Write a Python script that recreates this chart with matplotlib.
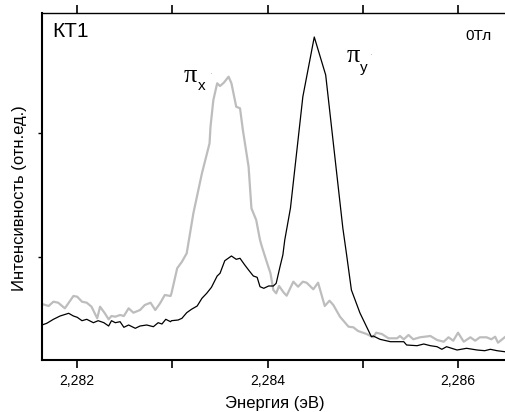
import matplotlib
matplotlib.use("Agg")
import matplotlib.pyplot as plt
from matplotlib.ticker import FixedLocator, FuncFormatter

plt.rcParams['font.family'] = ['Liberation Sans', 'DejaVu Sans']

# pi_y' spectrum (black): energy (eV), intensity (arb. units)
energy_y = [2.28163, 2.28168, 2.28175, 2.28182, 2.28191, 2.28196, 2.28200, 2.28205,
            2.28210, 2.28217, 2.28222, 2.28228, 2.28233, 2.28236, 2.28240, 2.28245,
            2.28249, 2.28254, 2.28261, 2.28266, 2.28273, 2.28280, 2.28285, 2.28289,
            2.28293, 2.28298, 2.28299, 2.28306, 2.28310, 2.28315, 2.28320, 2.28326,
            2.28331, 2.28336, 2.28341, 2.28347, 2.28350, 2.28355, 2.28362, 2.28367,
            2.28371, 2.28376, 2.28380, 2.28385, 2.28389, 2.28392, 2.28396, 2.28401,
            2.28406, 2.28409, 2.28413, 2.28416, 2.28418, 2.28424, 2.28437, 2.28449,
            2.28461, 2.28479, 2.28483, 2.28488, 2.28497, 2.28509, 2.28511, 2.28518,
            2.28529, 2.28543, 2.28546, 2.28557, 2.28564, 2.28571, 2.28578, 2.28583,
            2.28588, 2.28599, 2.28609, 2.28620, 2.28628, 2.28634, 2.28641, 2.28649]
intensity_y = [55, 56.7, 60.7, 64, 66.7, 64, 62.7, 59.3,
               60.7, 57.3, 59.3, 57.3, 54, 59.3, 57.3, 58.3,
               52.7, 55, 51.7, 54, 55, 53.3, 57.3, 56,
               60.7, 58.3, 59.3, 60, 61.7, 67.3, 70.7, 74,
               81.7, 86.7, 92.7, 104, 106.7, 119.3, 124, 120.7,
               121.7, 115, 110, 104, 102.7, 93.3, 91.7, 94,
               94, 96.7, 113.3, 125, 140, 172, 283.3, 343,
               305, 152, 125, 90, 67, 43.3, 44, 40.7,
               38.3, 38.3, 35, 34.3, 36, 34.3, 33.3, 30.7,
               33.3, 30, 31.7, 30, 29.3, 30.7, 29.3, 28.3]

# pi_x' spectrum (grey)
energy_x = [2.28163, 2.28170, 2.28175, 2.28180, 2.28187, 2.28196, 2.28200, 2.28205,
            2.28210, 2.28215, 2.28221, 2.28224, 2.28229, 2.28233, 2.28236, 2.28240,
            2.28245, 2.28249, 2.28254, 2.28259, 2.28266, 2.28271, 2.28277, 2.28282,
            2.28287, 2.28292, 2.28298, 2.28299, 2.28305, 2.28310, 2.28315, 2.28322,
            2.28331, 2.28339, 2.28340, 2.28343, 2.28347, 2.28350, 2.28354, 2.28359,
            2.28362, 2.28367, 2.28371, 2.28374, 2.28380, 2.28383, 2.28388, 2.28392,
            2.28394, 2.28399, 2.28403, 2.28406, 2.28409, 2.28412, 2.28417, 2.28420,
            2.28427, 2.28432, 2.28437, 2.28441, 2.28448, 2.28453, 2.28460, 2.28465,
            2.28469, 2.28476, 2.28485, 2.28490, 2.28495, 2.28504, 2.28511, 2.28514,
            2.28520, 2.28527, 2.28536, 2.28539, 2.28543, 2.28548, 2.28553, 2.28560,
            2.28571, 2.28578, 2.28585, 2.28590, 2.28595, 2.28600, 2.28606, 2.28613,
            2.28618, 2.28623, 2.28630, 2.28635, 2.28639, 2.28642, 2.28649]
intensity_x = [76, 74, 78.3, 77.3, 71.7, 84, 83.3, 78.3,
               77.3, 73.3, 61.7, 73.3, 66.7, 60.7, 64, 63.3,
               65, 64, 71.7, 67.3, 70, 75, 77.3, 70,
               76.7, 85, 84, 86.7, 111.7, 118.3, 126.7, 166.7,
               206.7, 236.7, 253.3, 280, 296.7, 294, 297.3, 303.3,
               296.7, 273.3, 271.7, 250, 213.3, 171.7, 160, 140,
               133.3, 118.3, 106.7, 90, 86.7, 94, 87.3, 84.3,
               98.3, 93.3, 98.3, 97.3, 90.7, 97.3, 74, 79.3,
               75, 63.3, 53.3, 52.7, 49, 46, 42.7, 47.3,
               46, 41.7, 41.7, 44, 40.7, 45, 40.7, 42.7,
               44, 40, 38.3, 42.7, 39.3, 47.3, 38.3, 42.7,
               39.3, 42.7, 42.7, 40.7, 43.3, 37.3, 42.7]

x_major = [2.282, 2.284, 2.286]
x_minor = [2.283, 2.285]
y_ticks = [123, 247]

fig = plt.figure(figsize=(5.06, 4.12), dpi=100)
ax = fig.add_axes([42/506, 52/412, 466/506, 347/412])

ax.plot(energy_x, intensity_x, color='#bdbdbd', lw=1.6)
ax.plot(energy_y, intensity_y, color='black', lw=0.9)

ax.set_xlim(2.28163, 2.286525)
ax.set_ylim(20, 367)

ax.xaxis.set_major_locator(FixedLocator(x_major))
ax.xaxis.set_minor_locator(FixedLocator(x_minor))
ax.xaxis.set_major_formatter(FuncFormatter(lambda v, p: f"{v:.3f}".replace('.', ',')))
ax.yaxis.set_major_locator(FixedLocator(y_ticks))
ax.set_yticklabels([])

ax.tick_params(axis='x', which='both', direction='out', length=6, width=1.2,
               labelsize=10, pad=4, top=True)
ax.tick_params(axis='y', direction='out', length=3, width=1, left=True)
ax.spines['left'].set_linewidth(1.5)
ax.spines['bottom'].set_linewidth(1.5)
ax.spines['top'].set_linewidth(1.0)
ax.spines['right'].set_visible(False)

ax.set_xlabel('Энергия (эВ)', fontsize=12)
ax.xaxis.set_label_coords(0.5, -0.105)
ax.set_ylabel('Интенсивность (отн.ед.)', fontsize=12)
ax.yaxis.set_label_coords(-0.033, 0.467)

ax.text(0.022, 0.975, 'КТ1', transform=ax.transAxes, fontsize=15, va='top', ha='left')
ax.text(0.965, 0.955, '0Тл', transform=ax.transAxes, fontsize=11, va='top', ha='right')

ax.text(2.283113, 298, 'π', fontsize=19, family=['Liberation Serif', 'DejaVu Serif'],
        ha='left', va='baseline')
ax.text(2.28327, 290, 'x', fontsize=11, ha='left', va='baseline')
ax.text(2.28339, 304, '·', fontsize=6, color='#aaaaaa', ha='left', va='baseline')
ax.text(2.284825, 318, 'π', fontsize=19, family=['Liberation Serif', 'DejaVu Serif'],
        ha='left', va='baseline')
ax.text(2.28497, 308, 'y', fontsize=11, ha='left', va='baseline')
ax.text(2.28508, 323, '·', fontsize=6, color='#aaaaaa', ha='left', va='baseline')

fig.savefig('out.png', dpi=100)
